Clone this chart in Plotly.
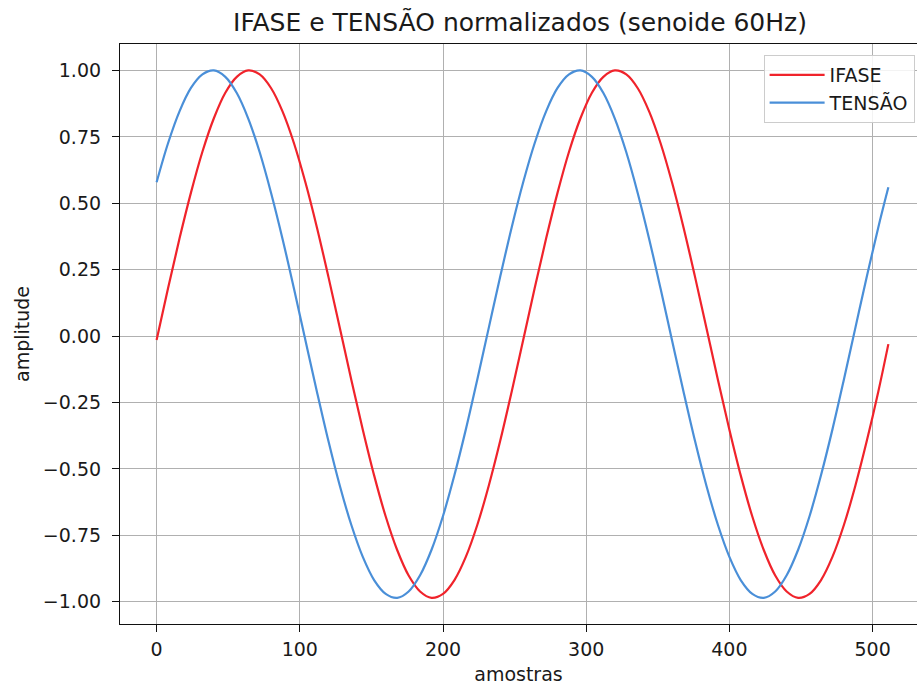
import plotly.graph_objects as go

# sample index of each stored point (every 8th sample, plus the last one)
amostras = list(range(0, 512, 8)) + [511]

# normalized phase current
ifase = [
    -0.015, 0.180, 0.367, 0.540, 0.694, 0.820, 0.916, 0.976,
    1.000, 0.985, 0.933, 0.845, 0.725, 0.577, 0.408, 0.223,
    0.030, -0.165, -0.352, -0.526, -0.679, -0.805, -0.901, -0.961,
    -0.985, -0.970, -0.918, -0.830, -0.710, -0.562, -0.393, -0.208,
    -0.015, 0.180, 0.367, 0.540, 0.694, 0.820, 0.916, 0.976,
    1.000, 0.985, 0.933, 0.845, 0.725, 0.577, 0.408, 0.223,
    0.030, -0.165, -0.352, -0.526, -0.679, -0.805, -0.901, -0.961,
    -0.985, -0.970, -0.918, -0.830, -0.710, -0.562, -0.393, -0.208,
    -0.030,
]

# normalized voltage
tensao = [
    0.579, 0.726, 0.846, 0.934, 0.985, 1.000, 0.976, 0.915,
    0.819, 0.692, 0.538, 0.365, 0.177, -0.017, -0.210, -0.395,
    -0.564, -0.711, -0.831, -0.919, -0.970, -0.985, -0.961, -0.900,
    -0.804, -0.677, -0.523, -0.350, -0.162, 0.032, 0.225, 0.410,
    0.579, 0.726, 0.846, 0.934, 0.985, 1.000, 0.976, 0.915,
    0.819, 0.692, 0.538, 0.365, 0.177, -0.017, -0.210, -0.395,
    -0.564, -0.711, -0.831, -0.919, -0.970, -0.985, -0.961, -0.900,
    -0.804, -0.677, -0.523, -0.350, -0.162, 0.032, 0.225, 0.410,
    0.560,
]

x_ticks = [0, 100, 200, 300, 400, 500]
y_ticks = [-1.00, -0.75, -0.50, -0.25, 0.00, 0.25, 0.50, 0.75, 1.00]

FONT = "DejaVu Sans"
TXT = "#1a1a1a"

fig = go.Figure()
fig.add_trace(go.Scatter(
    x=amostras, y=ifase, name="IFASE", mode="lines",
    line=dict(color="#f0232b", width=2.2, shape="spline", smoothing=1.0),
))
fig.add_trace(go.Scatter(
    x=amostras, y=tensao, name="TENSÃO", mode="lines",
    line=dict(color="#4a8fd8", width=2.2, shape="spline", smoothing=1.0),
))

axis_common = dict(
    showgrid=True, gridcolor="#b0b0b0", gridwidth=1.2,
    showline=True, linecolor="#111", linewidth=1.2,
    ticks="outside", ticklen=7, tickcolor="#111", tickwidth=1.2,
    zeroline=False, tickfont=dict(family=FONT, size=19, color=TXT),
)

fig.update_layout(
    width=917, height=686,
    margin=dict(l=120, r=0, t=44, b=62),
    paper_bgcolor="white", plot_bgcolor="white",
    font=dict(family=FONT, size=19, color=TXT),
    title=dict(
        text="IFASE e TENSÃO normalizados (senoide 60Hz)",
        x=(520 - 120) / 797, xref="paper", xanchor="center",
        y=0.967, yref="container", yanchor="middle",
        font=dict(family=FONT, size=25, color=TXT),
    ),
    xaxis=dict(
        range=[-25.55, 531.0], tickvals=x_ticks,
        mirror=True, ticklabelstandoff=1,
        title=dict(text="amostras", font=dict(family=FONT, size=19, color=TXT), standoff=8),
        **axis_common,
    ),
    yaxis=dict(
        range=[-1.0835, 1.0995], tickvals=y_ticks, tickformat=".2f",
        mirror=False, ticklabelstandoff=7,
        title=dict(text="amplitude", font=dict(family=FONT, size=19, color=TXT), standoff=8),
        **axis_common,
    ),
    legend=dict(
        x=0.997, xanchor="right", y=0.981, yanchor="top",
        bgcolor="rgba(255,255,255,0.85)", bordercolor="#cccccc", borderwidth=1,
        font=dict(family=FONT, size=19, color=TXT),
        itemwidth=55, tracegroupgap=6,
    ),
    showlegend=True,
)

fig.write_html("out.html")
